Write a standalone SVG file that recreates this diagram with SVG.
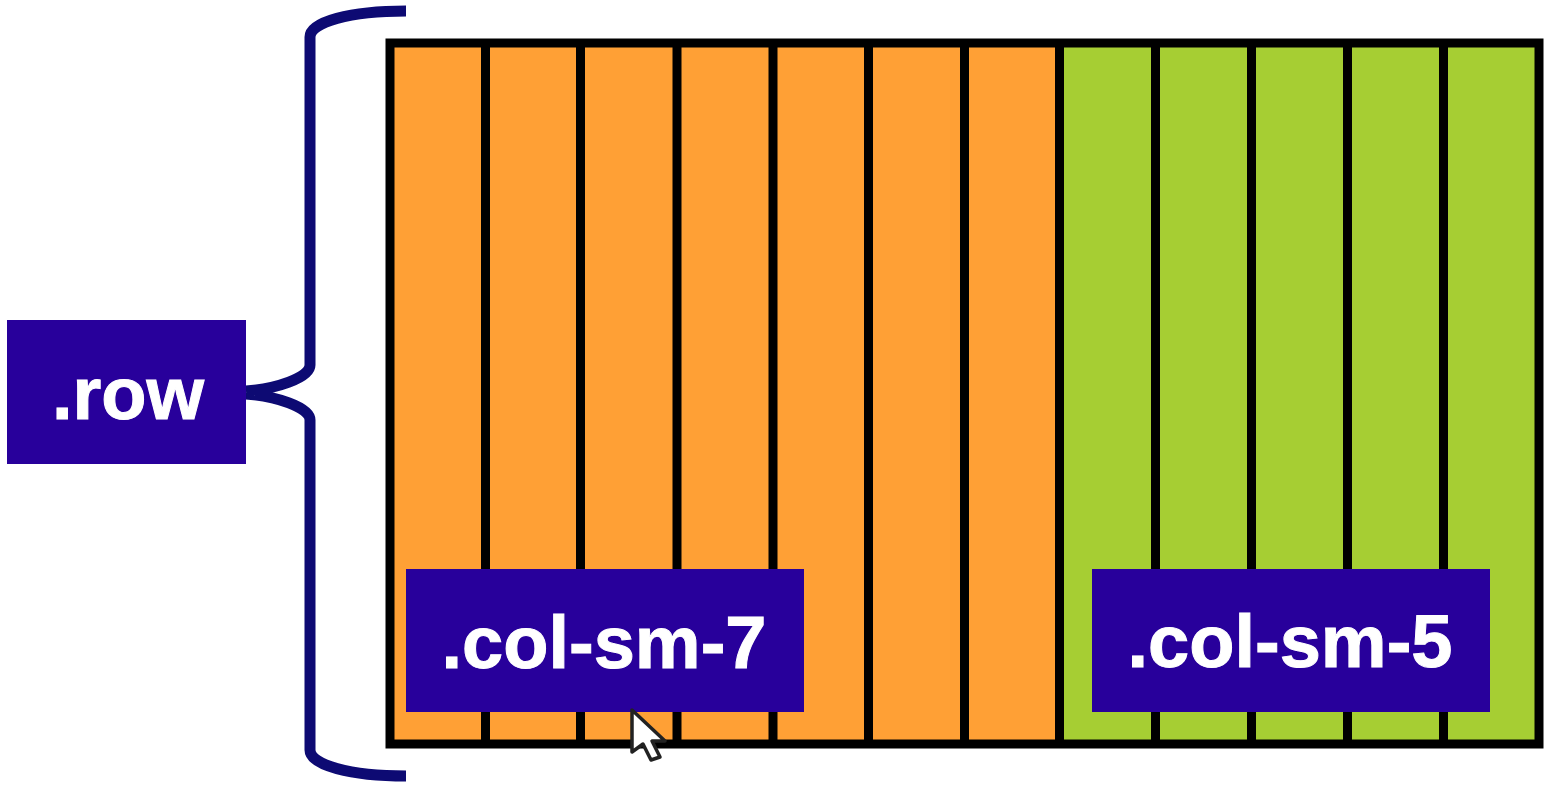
<svg xmlns="http://www.w3.org/2000/svg" width="1547" height="792" viewBox="0 0 1547 792">
<style>
.lbl{fill:#28009b}
.t{fill:#fff;stroke:#fff;stroke-width:1;font-family:"Liberation Sans",Arial,sans-serif;font-weight:700;text-anchor:middle}
.g{stroke:#000;stroke-width:9;fill:none}
</style>
<rect width="1547" height="792" fill="#fff"/>
<g id="grid">
<rect x="390" y="43" width="670" height="701" fill="#ffa035"/>
<rect x="1060" y="43" width="479" height="701" fill="#a6ce33"/>
<path class="g" d="M485.500 43V744M580.500 43V744M677 43V744M773 43V744M868.500 43V744M964.500 43V744M1059.500 43V744M1155.500 43V744M1251.500 43V744M1347.500 43V744M1443.500 43V744"/>
<rect class="g" x="390" y="43" width="1149" height="701"/>
</g>
<g id="connectors">
<path d="M406 11C350 11 310 22 310 37V365C310 378 275 389 246 391M246 394C275 396 310 407 310 420V750C310 765 350 776 406 776" fill="none" stroke="#0d0a73" stroke-width="11"/>
</g>
<g id="row"><rect class="lbl" x="7" y="320" width="239" height="144"/><text class="t" x="128" y="419" font-size="74">.row</text></g>
<g id="col7"><rect class="lbl" x="406" y="569" width="398" height="143"/><text class="t" x="604" y="668" font-size="74">.col-sm-7</text></g>
<g id="col5"><rect class="lbl" x="1092" y="569" width="398" height="143"/><text class="t" x="1290" y="667" font-size="74">.col-sm-5</text></g>
<g id="cursor"><path d="M632 710V752L643 744L651 760L660 757L652 741H665Z" fill="#fff" stroke="#222" stroke-width="3.500" stroke-linejoin="round"/></g>
</svg>
